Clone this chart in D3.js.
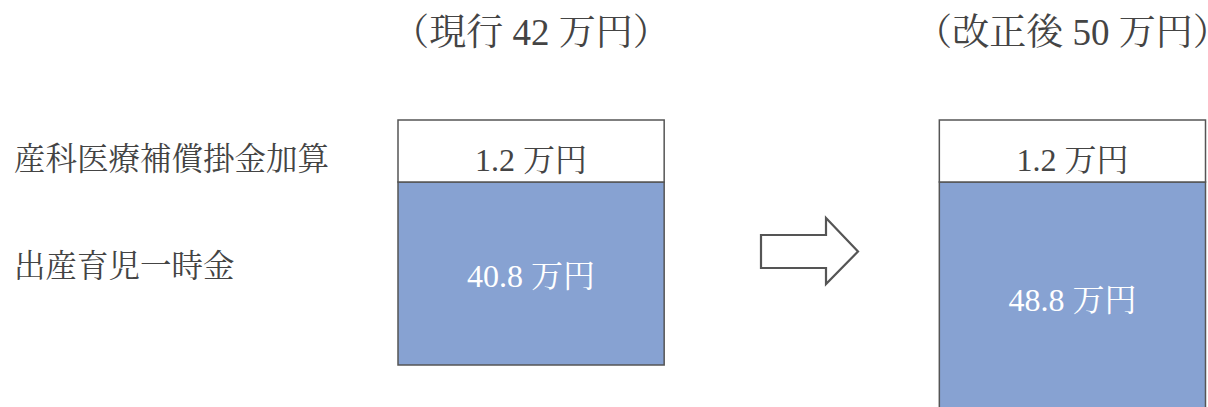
<!DOCTYPE html>
<html><head><meta charset="utf-8">
<script src="https://cdn.jsdelivr.net/npm/d3@7"></script>
<style>
html,body{margin:0;padding:0;background:#fff;overflow:hidden;}
svg{display:block;}
text{font-family:"Liberation Serif","Noto Serif CJK JP","Noto Sans CJK JP",serif;}
</style></head>
<body>
<svg id="chart" width="1208" height="407"></svg>
<script>
const scenarios = ["（現行 42 万円）", "（改正後 50 万円）"];
const categories = ["産科医療補償掛金加算", "出産育児一時金"];
const premiumValues = [1.2, 1.2];
const lumpSumValues = [40.8, 48.8];
const unit = " 万円";

const svg = d3.select("#chart");
const ink = "#444";

const x = d3.scaleBand().domain(scenarios).range([398, 1205.5]).paddingInner(0.5083).paddingOuter(0);
// Schematic: the premium block has a fixed height, the main block grows with value
const topY = 120, midY = 182;
const yBottom = d3.scaleLinear().domain([40.8, 48.8]).range([365, 414]);

// Titles
svg.selectAll("text.title").data(scenarios).join("text")
  .attr("class","title")
  .attr("x", d => x(d) + x.bandwidth()/2)
  .attr("y", 45)
  .attr("text-anchor","middle")
  .attr("font-size", 37)
  .attr("fill", ink)
  .text(d => d);

// Category labels
const labelY = [170, 277];
svg.selectAll("text.cat").data(categories).join("text")
  .attr("class","cat")
  .attr("x", 14)
  .attr("y", (d,i) => labelY[i])
  .attr("font-size", 31.5)
  .attr("fill", ink)
  .text(d => d);

const data = scenarios.map((s,i) => ({s, premium: premiumValues[i], lump: lumpSumValues[i]}));

// Main (blue) blocks
svg.selectAll("rect.lump").data(data).join("rect")
  .attr("class","lump")
  .attr("x", d => x(d.s))
  .attr("y", midY)
  .attr("width", x.bandwidth())
  .attr("height", d => yBottom(d.lump) - midY)
  .attr("fill", "#87a2d2")
  .attr("stroke", "#555")
  .attr("stroke-width", 1.5);

// Premium (white) blocks
svg.selectAll("rect.prem").data(data).join("rect")
  .attr("class","prem")
  .attr("x", d => x(d.s))
  .attr("y", topY)
  .attr("width", x.bandwidth())
  .attr("height", midY - topY)
  .attr("fill", "#fff")
  .attr("stroke", "#555")
  .attr("stroke-width", 1.5);

svg.selectAll("text.prem").data(data).join("text")
  .attr("class","prem")
  .attr("x", d => x(d.s) + x.bandwidth()/2)
  .attr("y", (topY+midY)/2 + 20)
  .attr("text-anchor","middle")
  .attr("font-size", 32)
  .attr("fill", ink)
  .text(d => d.premium.toFixed(1) + unit);

svg.selectAll("text.lump").data(data).join("text")
  .attr("class","lump")
  .attr("x", d => x(d.s) + x.bandwidth()/2)
  .attr("y", d => (midY + yBottom(d.lump))/2 + 13)
  .attr("text-anchor","middle")
  .attr("font-size", 32)
  .attr("fill", "#fff")
  .text(d => d.lump.toFixed(1) + unit);

// Arrow
const ax0 = 761, ax1 = 826, ax2 = 858, ay0 = 235, ay1 = 268, ah0 = 218, ah1 = 284, ay = 251.5;
svg.append("path")
  .attr("d", `M${ax0},${ay0} L${ax1},${ay0} L${ax1},${ah0} L${ax2},${ay} L${ax1},${ah1} L${ax1},${ay1} L${ax0},${ay1} Z`)
  .attr("fill","#fff")
  .attr("stroke","#555")
  .attr("stroke-width",2.2)
  .attr("stroke-linejoin","miter");
</script>
</body></html>
